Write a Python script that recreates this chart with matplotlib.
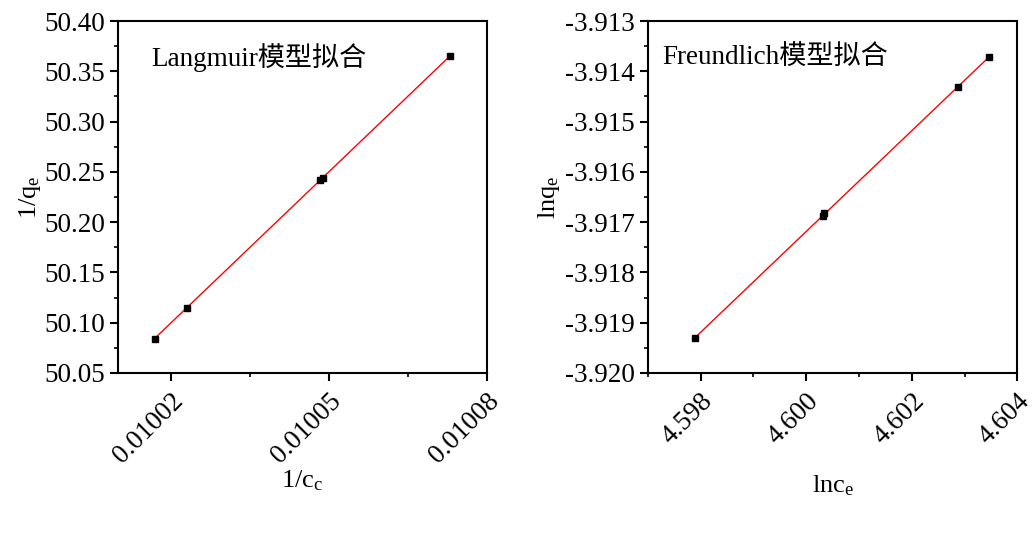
import numpy as np
import matplotlib
matplotlib.use('Agg')
import matplotlib.pyplot as plt
from matplotlib.ticker import MultipleLocator, FormatStrFormatter

plt.rcParams['font.family'] = ['Liberation Serif', 'Noto Sans CJK SC']
plt.rcParams['mathtext.fontset'] = 'custom'
plt.rcParams['mathtext.rm'] = 'Liberation Serif'
plt.rcParams['mathtext.it'] = 'Liberation Serif'

# Langmuir data
inv_ce = [0.010017, 0.010023, 0.0100483, 0.0100488, 0.010073]
inv_qe = [50.084, 50.115, 50.242, 50.244, 50.365]

# Freundlich data
ln_ce = [4.597896, 4.600313, 4.600338, 4.602881, 4.603468]
ln_qe = [-3.919303, -3.916882, -3.916828, -3.914307, -3.913710]

fig = plt.figure(figsize=(10.36, 5.47), dpi=100)
ax1 = fig.add_axes([0.1139, 0.3181, 0.3562, 0.6435])
ax2 = fig.add_axes([0.6252, 0.3181, 0.3568, 0.6435])


def draw_panel(ax, x, y, title, tx, xlabel, ylabel, xly, ylpad):
    x = np.array(x)
    y = np.array(y)
    # linear fit through the points
    k, b = np.polyfit(x, y, 1)
    xs = np.array([x.min(), x.max()])
    ax.plot(xs, k * xs + b, color='red', lw=1.0, zorder=2)
    ax.plot(x, y, ls='none', marker='s', ms=4.5, color='black', zorder=3)
    ax.text(tx, 0.895, title, transform=ax.transAxes, fontsize=19.5,
            ha='left', va='center')
    ax.set_xlabel(xlabel, fontsize=19)
    ax.xaxis.set_label_coords(0.5, xly)
    ax.set_ylabel(ylabel, fontsize=19, labelpad=ylpad)
    for s in ax.spines.values():
        s.set_linewidth(1.5)
    ax.tick_params(which='major', direction='out', length=6, width=1.5,
                   labelsize=19.5, top=False, right=False)
    ax.tick_params(which='minor', direction='out', length=3, width=1.2,
                   top=False, right=False)
    ax.tick_params(axis='x', which='major', pad=5)
    for lab in ax.get_xticklabels():
        lab.set_rotation(45)
        lab.set_ha('right')
        lab.set_rotation_mode('anchor')


ax1.set_xlim(0.01001, 0.01008)
ax1.set_ylim(50.05, 50.40)
ax1.xaxis.set_major_locator(MultipleLocator(0.00003))
ax1.xaxis.set_minor_locator(MultipleLocator(0.000015))
ax1.xaxis.set_major_formatter(FormatStrFormatter('%.5f'))
ax1.yaxis.set_major_locator(MultipleLocator(0.05))
ax1.yaxis.set_minor_locator(MultipleLocator(0.025))
ax1.yaxis.set_major_formatter(FormatStrFormatter('%.2f'))
draw_panel(ax1, inv_ce, inv_qe, 'Langmuir模型拟合', 0.09,
           r'1/c$_\mathrm{c}$', r'1/q$_\mathrm{e}$', -0.27, 1)

ax2.set_xlim(4.597, 4.604)
ax2.set_ylim(-3.920, -3.913)
ax2.xaxis.set_major_locator(MultipleLocator(0.002))
ax2.xaxis.set_minor_locator(MultipleLocator(0.001))
ax2.xaxis.set_major_formatter(FormatStrFormatter('%.3f'))
ax2.yaxis.set_major_locator(MultipleLocator(0.001))
ax2.yaxis.set_minor_locator(MultipleLocator(0.0005))
ax2.yaxis.set_major_formatter(FormatStrFormatter('%.3f'))
draw_panel(ax2, ln_ce, ln_qe, 'Freundlich模型拟合', 0.04,
           r'lnc$_\mathrm{e}$', r'lnq$_\mathrm{e}$', -0.285, 2)

fig.savefig('out.png', dpi=100)
